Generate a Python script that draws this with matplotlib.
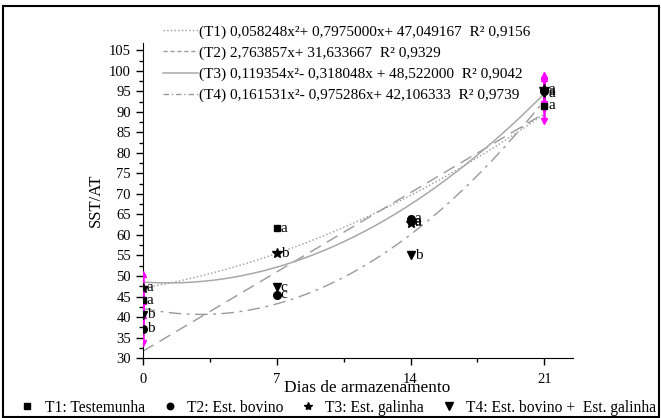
import numpy as np
import matplotlib
matplotlib.use("Agg")
import matplotlib.pyplot as plt
from matplotlib.lines import Line2D
from matplotlib.patches import Rectangle

plt.rcParams['font.family'] = ['Liberation Serif', 'DejaVu Serif']

# Storage days
days = [0, 7, 14, 21]

# SST/AT per treatment
t1_vals = [44.1, 61.7, 63.4, 91.5]
t2_vals = [37.1, 45.4, 64.0, 95.0]
t3_vals = [47.1, 55.6, 63.0, 95.5]
t4_vals = [40.5, 47.3, 55.1, 94.5]

# error bars (only visible on day 0 and day 21)
t1_err = [3.5, 0, 0, 3.8]
t2_err = [3.4, 0, 0, 3.8]
t3_err = [3.5, 0, 0, 3.6]
t4_err = [3.5, 0, 0, 3.8]

# significance letters
t1_letters = ['a', 'a', 'a', 'a']
t2_letters = ['b', 'c', 'a', 'a']
t3_letters = ['a', 'b', 'a', 'a']
t4_letters = ['b', 'c', 'b', 'a']

# regression coefficients (c2, c1, c0)
t1_coef = [0.058248, 0.7975000, 47.049167]
t2_coef = [0.0, 2.763857, 31.633667]
t3_coef = [0.119354, -0.318048, 48.522000]
t4_coef = [0.161531, -0.975286, 42.106333]

eq_labels = [
    '(T1) 0,058248x²+ 0,7975000x+ 47,049167  R² 0,9156',
    '(T2) 2,763857x+ 31,633667  R² 0,9329',
    '(T3) 0,119354x²- 0,318048x + 48,522000  R² 0,9042',
    '(T4) 0,161531x²- 0,975286x+ 42,106333  R² 0,9739',
]
treat_labels = ['T1: Testemunha', 'T2: Est. bovino', 'T3: Est. galinha',
                'T4: Est. bovino +  Est. galinha']


def main():
    fig = plt.figure(figsize=(6.61, 4.18), dpi=100)
    ax = fig.add_axes([0.216, 0.1435, 0.651, 0.7535])

    xs = np.linspace(0, 21, 200)
    styles = [(':', '#9a9a9a', 1.0), ((0, (9, 5)), '#9a9a9a', 1.0),
              ('-', '#a8a8a8', 1.1), ((0, (9, 4, 2, 4)), '#9a9a9a', 1.0)]
    legend_ls = [':', (0, (3, 2)), '-', (0, (4, 2, 1, 2))]
    coefs = [t1_coef, t2_coef, t3_coef, t4_coef]
    curve_handles = []
    for coef, (ls, col, lw), lls, lab in zip(coefs, styles, legend_ls, eq_labels):
        ax.plot(xs, np.polyval(coef, xs), linestyle=ls, color=col, lw=lw)
        curve_handles.append(Line2D([], [], linestyle=lls, color=col, lw=lw, label=lab))

    series = [t1_vals, t2_vals, t3_vals, t4_vals]
    errs = [t1_err, t2_err, t3_err, t4_err]
    letters = [t1_letters, t2_letters, t3_letters, t4_letters]
    markers = ['s', 'o', '*', 'v']
    msizes = [5, 5.5, 7, 6]

    # magenta error bars with small triangles at the ends
    for vals, err in zip(series, errs):
        idx = [i for i, e in enumerate(err) if e > 0]
        ex = np.array([days[i] for i in idx])
        ey = np.array([vals[i] for i in idx])
        ee = np.array([err[i] for i in idx])
        ax.errorbar(ex, ey, yerr=ee, fmt='none', ecolor='magenta',
                    elinewidth=1.8, capsize=0, zorder=3)
        ax.plot(ex, ey + ee, linestyle='none', marker='^', color='magenta', ms=4, zorder=3)
        ax.plot(ex, ey - ee, linestyle='none', marker='v', color='magenta', ms=4, zorder=3)

    for vals, m, ms, lets in zip(series, markers, msizes, letters):
        ax.plot(days, vals, linestyle='none', marker=m, color='black', ms=ms, zorder=4)
        for d, v, t in zip(days, vals, lets):
            ax.annotate(t, (d, v), xytext=(3, 0), textcoords='offset points',
                        va='center', ha='left', fontsize=11, zorder=5)

    ax.set_xlim(0, 22.5)
    ax.set_ylim(30, 106.8)
    ax.set_xticks(days)
    ax.set_xticks([3.5, 10.5, 17.5], minor=True)
    ax.set_yticks(np.arange(30, 106, 5))
    ax.set_yticks(np.arange(32.5, 106, 5), minor=True)
    ax.spines['top'].set_visible(False)
    ax.spines['right'].set_visible(False)
    ax.tick_params(which='major', length=5, width=1, labelsize=10.5)
    ax.tick_params(which='minor', length=3, width=1)
    ax.tick_params(axis='x', pad=6)

    ax.set_xlabel('Dias de armazenamento', fontsize=12.4, va='center')
    ax.xaxis.set_label_coords(0.521, -0.095)
    ax.set_ylabel('SST/AT', fontsize=12)

    fig.legend(handles=curve_handles, loc='upper left', bbox_to_anchor=(0.246, 0.9407),
               frameon=False, fontsize=11, handlelength=2.3, handletextpad=0.1,
               labelspacing=0.48, borderaxespad=0, borderpad=0)

    mk_handles = [Line2D([], [], linestyle='none', marker=m, color='black', ms=s * 0.85)
                  for m, s in zip(markers, msizes)]
    fig.legend(handles=mk_handles, labels=treat_labels, loc='center',
               bbox_to_anchor=(0.51, 0.025), ncol=4, frameon=False, fontsize=11.2,
               handlelength=1.2, handletextpad=0.5, columnspacing=1.0, borderpad=0)

    fig.patches.append(Rectangle((0.004, 0.003), 0.993, 0.983, transform=fig.transFigure,
                                 fill=False, edgecolor='black', lw=1.5))

    fig.savefig('out.png', dpi=100)


if __name__ == "__main__":
    main()
